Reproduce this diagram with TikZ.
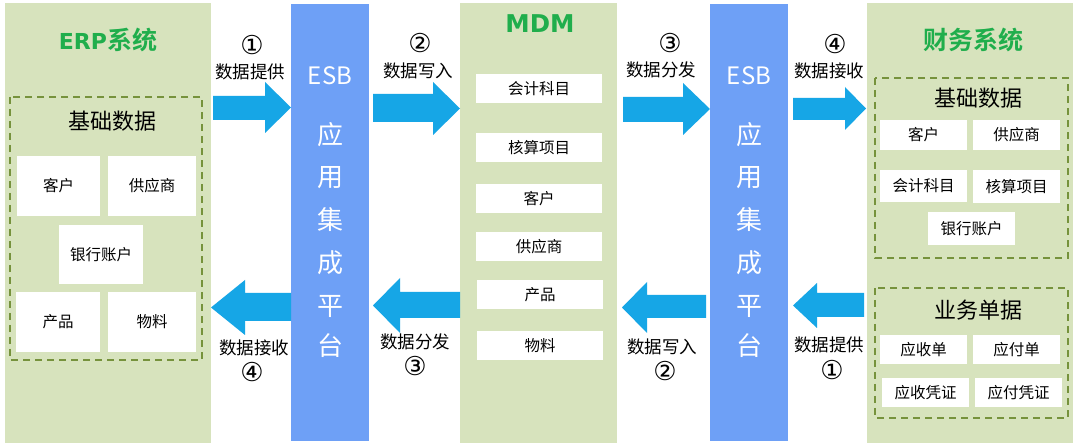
\documentclass[tikz,border=0pt]{standalone}
\usepackage{fontspec}
\setmainfont{Noto Sans CJK SC}
\newfontfamily\cjkb{Noto Sans CJK SC Bold}
\newfontfamily\dvb{DejaVu Sans Bold}
\newfontfamily\dv{DejaVu Sans}
\definecolor{panel}{RGB}{215,227,189}
\definecolor{ttl}{RGB}{32,174,76}
\definecolor{esb}{RGB}{110,160,246}
\definecolor{arr}{RGB}{22,166,230}
\definecolor{dash}{RGB}{118,146,60}
\tikzset{
  panelbox/.style={fill=panel, draw=none},
  esbbox/.style={fill=esb, draw=none},
  dbox/.style={draw=dash, line width=1.8pt, dash pattern=on 7pt off 5pt},
  wbox/.style={fill=white, draw=none, font=\fontsize{15.5}{17}\selectfont, inner sep=0pt},
  ttext/.style={text=ttl, font=\cjkb\fontsize{25}{28}\selectfont},
  htext/.style={font=\fontsize{22}{25}\selectfont},
  lbl/.style={font=\fontsize{17.5}{20}\selectfont},
  num/.style={font=\dv\fontsize{26}{28}\selectfont, inner sep=0pt},
  esbt/.style={text=white, font=\fontsize{24}{26}\selectfont},
  esbv/.style={text=white, font=\fontsize{26}{28}\selectfont},
  barr/.style={fill=arr, draw=none}
}
\newcommand\wb[6]{\node[wbox, minimum width=#4-#2, minimum height=#5-#3] (#1) at ({(#2+#4)/2},{(#3+#5)/2}) {#6};}
% block arrow: x1 tail, x2 head base, x3 tip, y1 y2 body, y3 y4 head
\newcommand\rarrow[7]{\fill[barr] (#1,#4) -- (#2,#4) -- (#2,#6) -- (#3,{(#6+#7)/2}) -- (#2,#7) -- (#2,#5) -- (#1,#5) -- cycle;}
\begin{document}
\begin{tikzpicture}[x=1pt,y=-1pt]
\useasboundingbox (0,0) rectangle (1080,446);
\fill[white] (0,0) rectangle (1080,446);
% panels
\fill[panelbox] (5,3) rectangle (211,443);
\fill[panelbox] (460,3) rectangle (617,443);
\fill[panelbox] (867,3) rectangle (1073,443);
\fill[esbbox] (291,4) rectangle (369,441);
\fill[esbbox] (710,4) rectangle (788,441);
% titles
\node[ttext] (terp) at (108,40) {{\dvb\fontsize{22}{24}\selectfont ERP}系统};
\node[ttext] (tmdm) at (540,24) {\dvb\fontsize{24.5}{26}\selectfont MDM};
\node[ttext] (tfin) at (973,40) {财务系统};
% ESB texts
\foreach \x/\n in {330/a,749/b}{
  \node[esbt] (esb\n) at (\x,76) {ESB};
  \node[esbv] at (\x,135) {应};
  \node[esbv] at (\x,178) {用};
  \node[esbv] at (\x,220) {集};
  \node[esbv] at (\x,263) {成};
  \node[esbv] at (\x,306) {平};
  \node[esbv] at (\x,346) {台};
}
% ERP dashed box
\draw[dbox] (10,97) rectangle (202,360);
\node[htext] (erph) at (112,121) {基础数据};
\wb{e1}{17}{156}{100}{216}{客户}
\wb{e2}{108}{156}{196}{216}{供应商}
\wb{e3}{59}{225}{143}{284}{银行账户}
\wb{e4}{16}{292}{100}{352}{产品}
\wb{e5}{108}{292}{196}{352}{物料}
% MDM boxes
\wb{m1}{476}{74}{602}{103}{会计科目}
\wb{m2}{476}{133}{602}{162}{核算项目}
\wb{m3}{476}{184}{602}{213}{客户}
\wb{m4}{476}{232}{602}{261}{供应商}
\wb{m5}{477}{280}{603}{309}{产品}
\wb{m6}{477}{331}{603}{360}{物料}
% Finance
\draw[dbox] (875,78) rectangle (1068,258);
\node[htext] (fh1) at (978,98) {基础数据};
\wb{f1}{880}{120}{967}{150}{客户}
\wb{f2}{973}{120}{1060}{150}{供应商}
\wb{f3}{880}{170}{967}{202}{会计科目}
\wb{f4}{973}{170}{1060}{203}{核算项目}
\wb{f5}{928}{212}{1015}{245}{银行账户}
\draw[dbox] (875,288) rectangle (1068,418);
\node[htext] (fh2) at (978,310) {业务单据};
\wb{g1}{880}{335}{967}{364}{应收单}
\wb{g2}{973}{335}{1060}{364}{应付单}
\wb{g3}{882}{378}{969}{407}{应收凭证}
\wb{g4}{975}{378}{1062}{407}{应付凭证}
% arrows top (right)
\rarrow{213}{265}{291}{96}{120}{82}{133}
\rarrow{373}{433}{460}{94}{122}{82}{135}
\rarrow{623}{683}{710}{97}{122}{83}{135}
\rarrow{793}{845}{866}{98}{120}{87}{130}
% arrows bottom (left)
\rarrow{291}{245}{211}{293}{321}{280}{335}
\rarrow{460}{400}{373}{292}{318}{278}{333}
\rarrow{706}{647}{622}{295}{318}{282}{333}
\rarrow{864}{817}{793}{293}{317}{283}{328}
% labels
\node[num] (n1) at (252,45) {①};
\node[lbl] (l1) at (250,72) {数据提供};
\node[num] (n2) at (420,43) {②};
\node[lbl] (l2) at (418,71) {数据写入};
\node[num] (n3) at (670,43) {③};
\node[lbl] (l3) at (661,70) {数据分发};
\node[num] (n4) at (835,44) {④};
\node[lbl] (l4) at (829,71) {数据接收};
\node[lbl] (l5) at (254,348) {数据接收};
\node[num] (n5) at (252,372) {④};
\node[lbl] (l6) at (415,342) {数据分发};
\node[num] (n6) at (415,366) {③};
\node[lbl] (l7) at (662,347) {数据写入};
\node[num] (n7) at (665,371) {②};
\node[lbl] (l8) at (829,345) {数据提供};
\node[num] (n8) at (832,370) {①};
\end{tikzpicture}
\end{document}
